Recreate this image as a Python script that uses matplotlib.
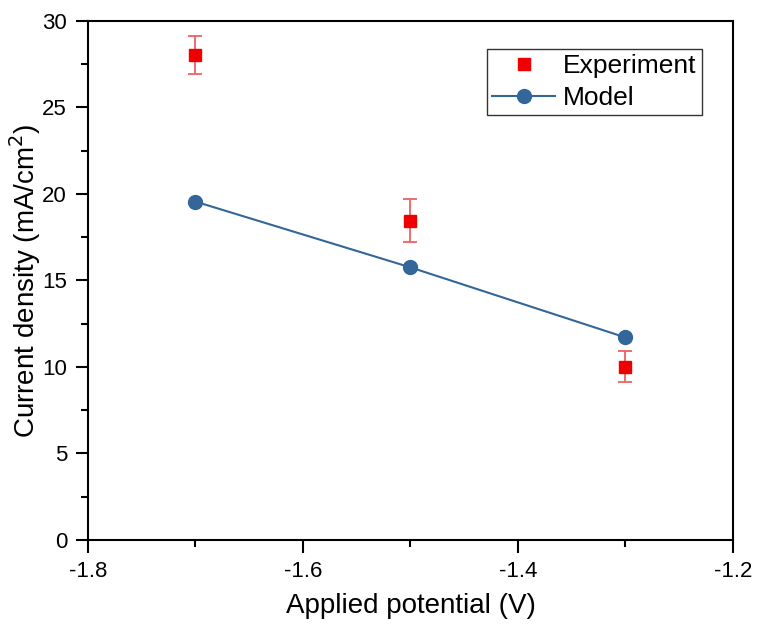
import numpy as np
import matplotlib.pyplot as plt
from matplotlib.ticker import MultipleLocator

plt.rcParams['font.family'] = ['Liberation Sans', 'DejaVu Sans']

# data
potential = [-1.7, -1.5, -1.3]
exp_current = [28.0, 18.45, 10.0]
exp_err = [1.1, 1.25, 0.9]
model_current = [19.55, 15.75, 11.7]

fig = plt.figure(figsize=(7.58, 6.3), dpi=100)
ax = fig.add_axes([0.116, 0.143, 0.851, 0.824])

ax.errorbar(potential, exp_current, yerr=exp_err, fmt='none', ecolor='#f06060',
            elinewidth=1.3, capsize=5, capthick=1.3, zorder=2)
ax.plot(potential, exp_current, 's', color='#ee0000', ms=8, label='Experiment', zorder=3)
ax.plot(potential, model_current, '-o', color='#336699', lw=1.5, ms=10,
        label='Model', zorder=2)

ax.set_xlim(-1.8, -1.2)
ax.set_ylim(0, 30)
ax.xaxis.set_major_locator(MultipleLocator(0.2))
ax.xaxis.set_minor_locator(MultipleLocator(0.1))
ax.yaxis.set_major_locator(MultipleLocator(5))
ax.yaxis.set_minor_locator(MultipleLocator(2.5))
ax.set_xticks([-1.8, -1.6, -1.4, -1.2], ['-1.8', '-1.6', '-1.4', '-1.2'])
ax.tick_params(which='major', direction='out', length=9, width=1.5, labelsize=16, pad=6)
ax.tick_params(which='minor', direction='out', length=5, width=1.5)
for s in ax.spines.values():
    s.set_linewidth(1.5)

ax.set_xlabel('Applied potential (V)', fontsize=20, labelpad=8)
ax.set_ylabel('Current density (mA/cm$^2$)', fontsize=20)
ax.yaxis.set_label_coords(-0.07, 0.5)

leg = ax.legend(loc='upper right', bbox_to_anchor=(0.952, 0.946), borderaxespad=0,
                fontsize=19, fancybox=False, edgecolor='#333333', framealpha=1,
                borderpad=0.2, labelspacing=0.3, handlelength=2.4, handletextpad=0.3)
leg.get_frame().set_linewidth(1.0)

fig.savefig('out.png', dpi=100)
